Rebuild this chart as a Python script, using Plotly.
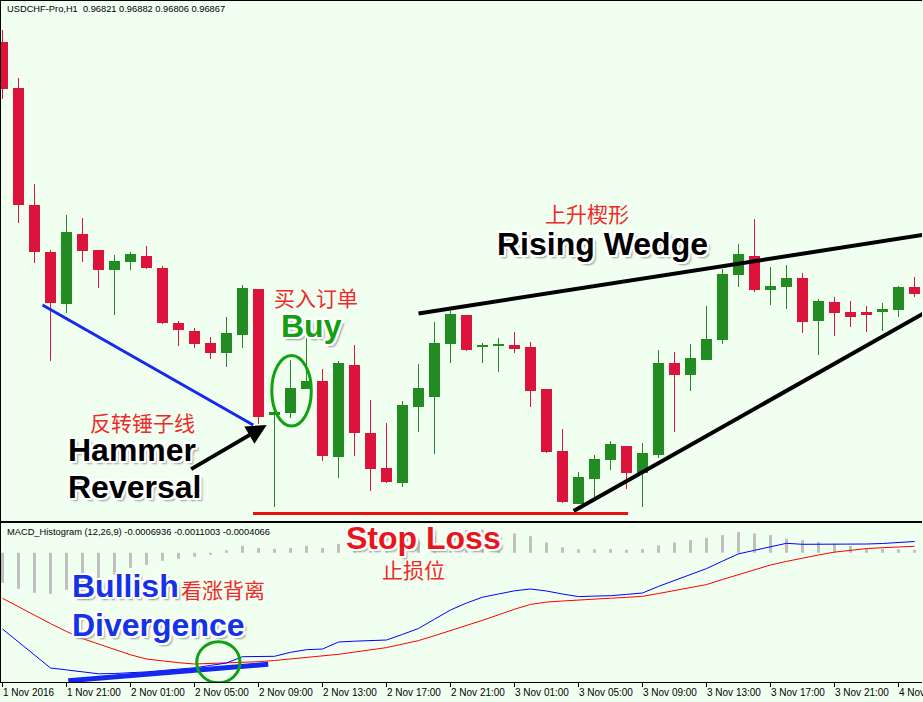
import plotly.graph_objects as go

BG = "#F0FFF0"
UP = "#228B22"
DOWN = "#DC143C"
TXT_RED = "#EE2A2A"
BOLD_FONT = "Liberation Sans, Arial, sans-serif"
CJK_FONT = "Noto Sans CJK SC, sans-serif"
SMALL_FONT = "Liberation Sans, Arial, sans-serif"
GLOW = ("-2px -2px 0 #fff, 2px -2px 0 #fff, -2px 2px 0 #fff, 2px 2px 0 #fff, "
        "0 -2px 0 #fff, 0 2px 0 #fff, -2px 0 0 #fff, 2px 0 0 #fff, 3px 3px 2px #999")

# USDCHF H1 candles, 1 Nov 17:00 .. 4 Nov 02:00 (2016)
opens = [0.97832, 0.97648, 0.97180, 0.96992, 0.96784, 0.97064, 0.97000, 0.96920, 0.96952, 0.96976,
         0.96928, 0.96708, 0.96676, 0.96628, 0.96588, 0.96660, 0.96844, 0.96340, 0.96348, 0.96444,
         0.96476, 0.96172, 0.96540, 0.96268, 0.96128, 0.96068, 0.96372, 0.96412, 0.96624, 0.96740,
         0.96612, 0.96616, 0.96620, 0.96612, 0.96444, 0.96196, 0.95984, 0.96084, 0.96160, 0.96216,
         0.96108, 0.96180, 0.96548, 0.96500, 0.96560, 0.96640, 0.96900, 0.96976, 0.96840, 0.96852,
         0.96888, 0.96716, 0.96792, 0.96752, 0.96752, 0.96752, 0.96760, 0.96852]
highs = [0.97880, 0.97688, 0.97264, 0.97000, 0.97140, 0.97128, 0.97000, 0.96980, 0.96992, 0.97016,
         0.96936, 0.96716, 0.96688, 0.96652, 0.96732, 0.96860, 0.96844, 0.96372, 0.96560, 0.96648,
         0.96524, 0.96556, 0.96620, 0.96400, 0.96308, 0.96396, 0.96544, 0.96712, 0.96756, 0.96740,
         0.96628, 0.96648, 0.96672, 0.96632, 0.96444, 0.96284, 0.96112, 0.96180, 0.96236, 0.96216,
         0.96228, 0.96600, 0.96592, 0.96624, 0.96776, 0.96924, 0.97024, 0.97124, 0.96932, 0.96940,
         0.96908, 0.96804, 0.96812, 0.96796, 0.96776, 0.96788, 0.96856, 0.96892]
lows = [0.97604, 0.97108, 0.96948, 0.96556, 0.96748, 0.96952, 0.96848, 0.96740, 0.96920, 0.96924,
        0.96704, 0.96616, 0.96608, 0.96564, 0.96532, 0.96608, 0.96304, 0.95972, 0.96328, 0.96444,
        0.96156, 0.96088, 0.96176, 0.96036, 0.96068, 0.96052, 0.96272, 0.96184, 0.96548, 0.96596,
        0.96548, 0.96512, 0.96588, 0.96372, 0.96188, 0.95988, 0.95984, 0.96012, 0.96120, 0.96044,
        0.95972, 0.96168, 0.96272, 0.96436, 0.96560, 0.96624, 0.96852, 0.96832, 0.96780, 0.96764,
        0.96668, 0.96580, 0.96656, 0.96692, 0.96672, 0.96676, 0.96732, 0.96812]
closes = [0.97644, 0.97180, 0.96992, 0.96788, 0.97072, 0.96996, 0.96920, 0.96956, 0.96984, 0.96928,
          0.96708, 0.96680, 0.96624, 0.96588, 0.96668, 0.96848, 0.96332, 0.96352, 0.96448, 0.96476,
          0.96176, 0.96548, 0.96268, 0.96124, 0.96072, 0.96380, 0.96448, 0.96628, 0.96744, 0.96600,
          0.96620, 0.96624, 0.96604, 0.96436, 0.96192, 0.95992, 0.96092, 0.96164, 0.96224, 0.96108,
          0.96188, 0.96548, 0.96500, 0.96568, 0.96644, 0.96904, 0.96984, 0.96840, 0.96856, 0.96888,
          0.96712, 0.96796, 0.96748, 0.96732, 0.96740, 0.96764, 0.96852, 0.96824]

# MACD (12,26,9) in points (1e-5)
macd_line = [-76.2, -89.2, -102.4, -115.2, -117.1, -118.8, -121.0, -120.7, -120.2, -119.1,
             -117.7, -116.4, -115.0, -112.6, -110.2, -103.9, -103.9, -103.5, -99.5, -96.9,
             -96.2, -89.2, -88.4, -87.8, -87.2, -81.6, -75.7, -66.4, -57.2, -50.2,
             -44.4, -41.2, -38.0, -36.2, -38.2, -41.2, -43.8, -43.3, -42.9, -41.6,
             -40.2, -33.6, -27.8, -22.2, -15.8, -8.3, -1.1, 2.5, 6.2, 9.5,
             8.5, 8.5, 8.5, 8.5, 8.8, 9.3, 10.1, 11.3]
signal_line = [-45.5, -54.2, -62.7, -70.8, -78.7, -85.8, -91.2, -96.7, -102.0, -106.2,
               -108.2, -109.9, -111.2, -110.7, -110.2, -109.5, -108.9, -107.7, -106.2, -104.8,
               -103.2, -101.5, -99.3, -97.2, -94.8, -91.3, -87.8, -82.9, -78.0, -73.0,
               -67.5, -62.0, -56.4, -51.6, -49.3, -48.2, -47.1, -46.3, -45.4, -44.6,
               -43.5, -40.7, -37.9, -35.1, -31.8, -26.7, -21.7, -16.9, -12.2, -8.6,
               -5.1, -2.2, 0.7, 2.6, 4.2, 5.1, 5.8, 6.5]
histogram = [-30, -36, -40, -41, -37, -30, -27, -22, -15, -12, -8, -6, -4, -2,
             2.5, 7, 5, 4, 5, 7, 5, 9, 11, 9.4, 7.6, 9.7, 12, 16.5, 20.8, 22.8, 23, 20.8,
             19.3, 16.6, 10.4, 5.4, 3.4, 3.4, 3.7, 3, 3.7, 7.4, 10.4, 12.7, 15, 17.7, 21,
             19.3, 17.7, 14, 12.7, 10.7, 9, 6.7, 4.7, 4, 3.4, 3]

tick_labels = ["1 Nov 2016", "1 Nov 21:00", "2 Nov 01:00", "2 Nov 05:00", "2 Nov 09:00",
               "2 Nov 13:00", "2 Nov 17:00", "2 Nov 21:00", "3 Nov 01:00", "3 Nov 05:00",
               "3 Nov 09:00", "3 Nov 13:00", "3 Nov 17:00", "3 Nov 21:00", "4 Nov 01:00"]
tick_bars = list(range(0, 58, 4))

idx = list(range(len(opens)))
is_up = [c > o for o, c in zip(opens, closes)]


def wick_xy(want_up):
    xs, ys = [], []
    for i in idx:
        if is_up[i] == want_up:
            xs += [i, i, None]
            ys += [lows[i], highs[i], None]
    return xs, ys


fig = go.Figure()

# price panel
for up, col in [(True, UP), (False, DOWN)]:
    wx, wy = wick_xy(up)
    fig.add_trace(go.Scatter(x=wx, y=wy, mode="lines", line=dict(color=col, width=1),
                             xaxis="x2", yaxis="y2", hoverinfo="skip"))
fig.add_trace(go.Bar(
    x=idx, y=[c - o for o, c in zip(opens, closes)], base=opens, width=0.69,
    marker=dict(color=[UP if u else DOWN for u in is_up], line_width=0),
    xaxis="x2", yaxis="y2",
))

# MACD panel
fig.add_trace(go.Bar(x=idx, y=histogram, width=0.19, marker=dict(color="#C0C0C0", line_width=0),
                     xaxis="x", yaxis="y"))
fig.add_trace(go.Scatter(x=idx, y=signal_line, mode="lines", line=dict(color="#FF0000", width=1),
                         xaxis="x", yaxis="y"))
fig.add_trace(go.Scatter(x=idx, y=macd_line, mode="lines", line=dict(color="#0000FF", width=1),
                         xaxis="x", yaxis="y"))

# pattern lines
fig.add_shape(type="line", xref="x2", yref="y2", x0=2.5, y0=0.96780, x1=15.67, y1=0.96300,
              line=dict(color="#1428F0", width=3))
fig.add_shape(type="line", xref="x2", yref="y2", x0=26.0, y0=0.96746, x1=58.0, y1=0.97065,
              line=dict(color="black", width=4))
fig.add_shape(type="line", xref="x2", yref="y2", x0=35.7, y0=0.95956, x1=58.0, y1=0.96762,
              line=dict(color="black", width=4))
fig.add_shape(type="line", xref="x2", yref="y2", x0=15.66, y0=0.95946, x1=39.1, y1=0.95946,
              line=dict(color="#E81010", width=3))
fig.add_shape(type="circle", xref="x2", yref="y2", x0=16.83, y0=0.96296, x1=19.30, y1=0.96578,
              line=dict(color="#10A010", width=3))
fig.add_shape(type="line", xref="x", yref="y", x0=4.11, y0=-127.9, x1=16.61, y1=-111.5,
              line=dict(color="#1428F0", width=5))
fig.add_shape(type="circle", xref="x", yref="y", x0=12.14, y0=-130.0, x1=14.84, y1=-88.9,
              line=dict(color="#10A010", width=3))


def label(text, x, y, color, size, bold=False, cjk=False, xanchor="center", xref="x2", yref="y2"):
    font = dict(family=CJK_FONT if cjk else BOLD_FONT, size=size, color=color)
    if bold:
        font["weight"] = 700
        font["shadow"] = GLOW
    fig.add_annotation(text=text, x=x, y=y, xref=xref, yref=yref, showarrow=False,
                       xanchor=xanchor, yanchor="middle", font=font, borderpad=0, borderwidth=0)


label("反转锤子线", 8.78, 0.96312, TXT_RED, 21, cjk=True)
label("Hammer", 4.09, 0.96200, "black", 32, bold=True, xanchor="left")
label("Reversal", 4.09, 0.96052, "black", 32, bold=True, xanchor="left")
label("买入订单", 19.62, 0.96812, TXT_RED, 21, cjk=True)
label("Buy", 19.31, 0.96696, "#12A012", 32, bold=True)
label("上升楔形", 36.5, 0.97148, TXT_RED, 21, cjk=True)
label("Rising Wedge", 37.5, 0.97024, "black", 32, bold=True)
label("Stop Loss", 26.34, 14.8, "#E8161B", 32, bold=True, xref="x", yref="y")
label("止损位", 25.69, -15.7, TXT_RED, 21, cjk=True, xref="x", yref="y")
label("Bullish", 4.34, -33.2, "#1433E6", 32, bold=True, xanchor="left", xref="x", yref="y")
label("看涨背离", 13.81, -36.2, TXT_RED, 21, cjk=True, xref="x", yref="y")
label("Divergence", 4.34, -72.2, "#1433E6", 32, bold=True, xanchor="left", xref="x", yref="y")

fig.add_annotation(text="", x=16.51, y=0.96300, xref="x2", yref="y2", ax=-77, ay=45,
                   showarrow=True, arrowhead=2, arrowsize=1, arrowwidth=4, arrowcolor="black")

# headers
fig.add_annotation(text="USDCHF-Pro,H1  0.96821 0.96882 0.96806 0.96867", xref="paper", yref="paper",
                   x=0.0062, y=0.9883, xanchor="left", yanchor="middle", showarrow=False,
                   font=dict(family=SMALL_FONT, size=9.3, color="black"), borderpad=0, borderwidth=0)
fig.add_annotation(text="MACD_Histogram (12,26,9) -0.0006936 -0.0011003 -0.0004066", xref="paper",
                   yref="paper", x=0.0062, y=0.2203, xanchor="left", yanchor="middle", showarrow=False,
                   font=dict(family=SMALL_FONT, size=9.3, color="black"), borderpad=0, borderwidth=0)

# time labels, left aligned on their ticks
for pos, txt in zip(tick_bars, tick_labels):
    fig.add_annotation(text=txt, x=pos, xref="x", y=-0.0147, yref="paper", xanchor="left",
                       yanchor="middle", showarrow=False, borderpad=0, borderwidth=0,
                       font=dict(family=SMALL_FONT, size=10, color="black"))

x_range = [-0.09375, 57.46875]
fig.update_layout(
    width=923, height=702,
    margin=dict(l=1, r=1, t=1, b=20),
    paper_bgcolor=BG, plot_bgcolor=BG,
    showlegend=False, barmode="overlay",
    xaxis=dict(range=x_range, showgrid=False, zeroline=False, showline=True, mirror=True,
               linecolor="black", linewidth=1, ticks="outside", ticklen=4, tickcolor="black",
               tickvals=tick_bars, showticklabels=False, fixedrange=True),
    xaxis2=dict(range=x_range, matches="x", anchor="y2", showgrid=False, zeroline=False,
                showline=True, mirror=True, linecolor="black", linewidth=1, showticklabels=False,
                ticks=""),
    yaxis=dict(domain=[0, 0.23348], range=[-129.2, 29.8], showgrid=False, zeroline=False,
               showline=True, linecolor="black", linewidth=1, showticklabels=False, ticks=""),
    yaxis2=dict(domain=[0.23642, 1], range=[0.95916, 0.97996], anchor="x2", showgrid=False,
                zeroline=False, showline=True, linecolor="black", linewidth=1,
                showticklabels=False, ticks=""),
)

fig.write_html("out.html", config={"displayModeBar": False},
               post_script="document.body.style.margin='0';"
                           "document.body.style.background='" + BG + "';")
